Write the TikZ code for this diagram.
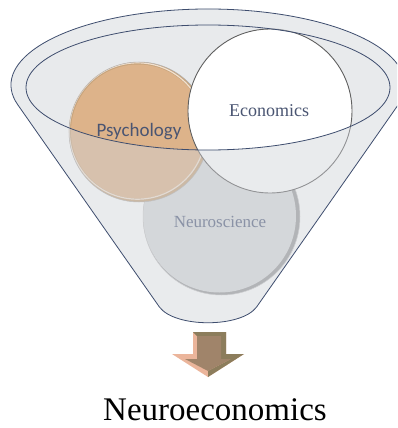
\documentclass[tikz,border=0pt]{standalone}
\usepackage{fontspec}
\newfontfamily\serifa{Liberation Serif}
\newfontfamily\sansa{Carlito}
\definecolor{edge}{HTML}{3E4D6E}
\definecolor{inner}{HTML}{E8EAEC}
\definecolor{wall}{HTML}{D0D3D8}
\definecolor{psy}{HTML}{DDB38A}
\definecolor{psyrim}{HTML}{C7A47C}
\definecolor{neu}{HTML}{D9DBDC}
\definecolor{neurim}{HTML}{9A9B9D}
\definecolor{txt}{HTML}{4A5572}
\definecolor{neutxt}{HTML}{8A92A6}
\definecolor{peach}{HTML}{EBB59B}
\definecolor{olive}{HTML}{8C7D5C}
\definecolor{face}{HTML}{A0846A}
\begin{document}
\begin{tikzpicture}[x=1pt,y=-1pt,
  outline/.style={draw=edge,line width=0.8pt},
  lbl/.style={inner sep=0pt,anchor=center}]
\clip (0,0) rectangle (397,428);
\fill[white] (0,0) rectangle (397,428);
% funnel back
\fill[white] (17.8,104.8) arc[start angle=164.9,end angle=375.1,x radius=197,y radius=76]
  -- (256.6,307) .. controls (241,328) and (175,328) .. (159.4,307) -- cycle;
\fill[inner] (208,87.5) ellipse[x radius=182,y radius=62.5];
% neuroscience circle
\fill[neurim] (221.5,216.5) circle (78.5);
\fill[neu] (219.5,216) circle (76.5);
\draw[draw=gray!40,line width=0.5pt] (221.5,216.5) circle (78.5);
% psychology circle
\fill[psyrim] (139,132) circle (70);
\fill[psy] (138,131.5) circle (67);
\draw[draw=white!60!psy,line width=1.2pt] (137.5,131) circle (68.2);
\draw[draw=gray!60,line width=0.5pt] (139,132) circle (70);
% economics circle
\fill[white] (270,111) circle (82);
\draw[draw=gray!75!black,line width=0.9pt] (270,111) circle (82);
% front wall (semi transparent)
\fill[wall,fill opacity=0.45,even odd rule]
  (17.8,104.8) arc[start angle=164.9,end angle=375.1,x radius=197,y radius=76]
  -- (256.6,307) .. controls (241,328) and (175,328) .. (159.4,307) -- cycle
  (208,87.5) ellipse[x radius=182,y radius=62.5];
% outlines
\draw[outline] (17.8,104.8) arc[start angle=164.9,end angle=375.1,x radius=197,y radius=76]
  -- (256.6,307) .. controls (241,328) and (175,328) .. (159.4,307) -- cycle;
\draw[outline] (208,87.5) ellipse[x radius=182,y radius=62.5];
% labels
\node[lbl,text=txt,font=\serifa\fontsize{18}{20}\selectfont] (eco) at (269,111) {Economics};
\node[lbl,text=txt,font=\sansa\fontsize{19}{21}\selectfont] (psyl) at (139,132) {Psychology};
\node[lbl,text=neutxt,font=\serifa\fontsize{17}{19}\selectfont] (neul) at (220,222) {Neuroscience};
% arrow
\fill[peach] (193,332) -- (226,332) -- (226,354) -- (244,354) -- (208,377) -- (172,354) -- (193,354) -- cycle;
\fill[olive] (226,332) -- (226,354) -- (244,354) -- (208,377) -- (208,371) -- (231,359) -- (221,359) -- (221,336) -- (197,336) -- (193,332) -- cycle;
\fill[face] (197,336) -- (221,336) -- (221,359) -- (231,359) -- (208,371) -- (185,359) -- (197,359) -- cycle;
\node[lbl,font=\serifa\fontsize{33}{36}\selectfont,anchor=base] (neo) at (215,420) {Neuroeconomics};
\end{tikzpicture}
\end{document}
